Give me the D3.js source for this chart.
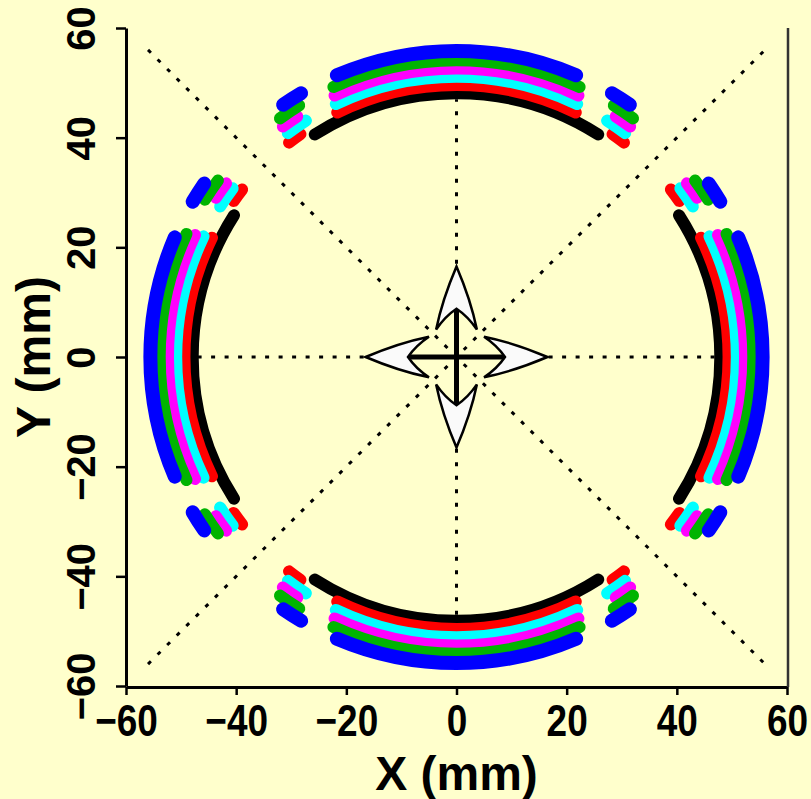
<!DOCTYPE html>
<html lang="en">
<head>
    <meta charset="UTF-8">
    <title>Ring segments</title>
    <script src="https://d3js.org/d3.v7.min.js"></script>
    <style>
        body {
            margin: 0;
            background: #ffffcc;
            font-family: "Liberation Sans", Arial, sans-serif;
        }
        .tick text {
            font-weight: bold;
        }
    </style>
</head>
<body>
    <div id="chart"></div>
    <script>
        // ring bands, inner to outer (drawn in this order)
        const bandColors = ["#000000", "#ff0000", "#00ffff", "#ff00ff", "#00b400", "#0000ff"];
        const bandRadius = [48, 49.5, 51, 52.5, 54, 55.7];          // mm
        const bandWidth = [12, 12, 12, 12, 12, 14];                 // px
        const mainHalfSpan = [32.5, 26, 25.5, 25, 24.5, 23];        // deg either side of the axis
        const sideFrom = [null, 35, 32.5, 33.5, 32, 30.5];          // short side pieces, deg from axis
        const sideTo = [null, 38, 37, 37, 36.5, 34.5];
        const arcAxes = [90, 0, 270, 180];                          // top, right, bottom, left

        const xTicks = [-60, -40, -20, 0, 20, 40, 60];
        const yTicks = [-60, -40, -20, 0, 20, 40, 60];

        // dotted guide lines [x1, y1, x2, y2] in mm
        const guides = [[-47, 0, 47, 0], [0, -47, 0, 47], [-56, 56, 56, -56], [-56, -56, 56, 56]];

        // centre arrows: direction, tip, notch, barb position/half-width (mm)
        const arrowDirs = [90, 0, 270, 180];
        const arrowTip = 16.5, arrowNotch = 8.8, arrowBarb = 5.0, arrowHalf = 3.7;

        const W = 811, H = 799;
        const x = d3.scaleLinear().domain([-60, 60]).range([126, 787]);
        const y = d3.scaleLinear().domain([-60, 60]).range([686, 28]);

        const svg = d3.select("#chart").append("svg")
            .attr("width", W).attr("height", H);

        svg.append("rect").attr("width", W).attr("height", H).attr("fill", "#ffffcc");

        // guides
        svg.append("g").selectAll("line")
            .data(guides)
            .enter().append("line")
            .attr("x1", d => x(d[0])).attr("y1", d => y(d[1]))
            .attr("x2", d => x(d[2])).attr("y2", d => y(d[3]))
            .attr("stroke", "#000")
            .attr("stroke-width", 3)
            .attr("stroke-dasharray", "4,9.5");

        // ring pieces
        const cx = x(0), cy = y(0);
        const rad = deg => deg * Math.PI / 180;
        function arcPath(r, from, to) {
            const p = d3.path();
            const R = ((x(r) - x(0)) + (y(0) - y(r))) / 2;
            p.arc(cx, cy, R, rad(-to), rad(-from));
            return p.toString();
        }

        const pieces = [];
        bandColors.forEach((c, i) => {
            arcAxes.forEach(a => {
                pieces.push({c, w: bandWidth[i], r: bandRadius[i], from: a - mainHalfSpan[i], to: a + mainHalfSpan[i]});
                if (sideFrom[i] != null) {
                    pieces.push({c, w: bandWidth[i], r: bandRadius[i], from: a + sideFrom[i], to: a + sideTo[i]});
                    pieces.push({c, w: bandWidth[i], r: bandRadius[i], from: a - sideTo[i], to: a - sideFrom[i]});
                }
            });
        });

        svg.append("g").selectAll("path")
            .data(pieces)
            .enter().append("path")
            .attr("d", d => arcPath(d.r, d.from, d.to))
            .attr("fill", "none")
            .attr("stroke", d => d.c)
            .attr("stroke-width", d => d.w)
            .attr("stroke-linecap", "round");

        // centre cross
        svg.append("g").selectAll("line")
            .data(arrowDirs.slice(0, 2))
            .enter().append("line")
            .attr("x1", d => x(arrowNotch * Math.cos(rad(d)))).attr("y1", d => y(arrowNotch * Math.sin(rad(d))))
            .attr("x2", d => x(-arrowNotch * Math.cos(rad(d)))).attr("y2", d => y(-arrowNotch * Math.sin(rad(d))))
            .attr("stroke", "#000")
            .attr("stroke-width", 5);

        // arrow heads
        function arrowPath(dir) {
            const c = Math.cos(rad(dir)), s = Math.sin(rad(dir));
            const pt = (along, lat) => [x(along * c - lat * s), y(along * s + lat * c)];
            const p = d3.path();
            const tip = pt(arrowTip, 0);
            p.moveTo(...tip);
            p.quadraticCurveTo(...pt(10.4, 2.6), ...pt(arrowBarb, arrowHalf));
            p.quadraticCurveTo(...pt(7.4, 2.1), ...pt(arrowNotch, 0));
            p.quadraticCurveTo(...pt(7.4, -2.1), ...pt(arrowBarb, -arrowHalf));
            p.quadraticCurveTo(...pt(10.4, -2.6), ...tip);
            p.closePath();
            return p.toString();
        }

        svg.append("g").selectAll("path")
            .data(arrowDirs)
            .enter().append("path")
            .attr("d", d => arrowPath(d))
            .attr("fill", "#fafafa")
            .attr("stroke", "#000")
            .attr("stroke-width", 2.5)
            .attr("stroke-linejoin", "miter");

        // axes
        const xAxis = svg.append("g")
            .attr("transform", `translate(0,${y(-60) + 1})`)
            .call(d3.axisBottom(x).tickValues(xTicks).tickSize(8).tickSizeOuter(0).tickPadding(6));
        xAxis.select(".domain").attr("stroke-width", 3);
        xAxis.selectAll(".tick line").attr("stroke-width", 2.5);
        xAxis.selectAll(".tick text")
            .attr("font-size", 44)
            .attr("fill", "#000")
            .attr("y", null).attr("dy", null)
            .attr("transform", "translate(0,49) scale(0.84,1)");

        const yAxis = svg.append("g")
            .attr("transform", `translate(${x(-60)},0)`)
            .call(d3.axisLeft(y).tickValues(yTicks).tickSize(10).tickSizeOuter(0).tickFormat(d3.format("d")));
        yAxis.select(".domain").attr("stroke-width", 3);
        yAxis.selectAll(".tick line").attr("stroke-width", 2.5);
        yAxis.selectAll(".tick text")
            .attr("font-size", 40)
            .attr("fill", "#000")
            .attr("x", null).attr("dy", null)
            .attr("text-anchor", "middle")
            .attr("transform", "translate(-31,0) rotate(-90)");

        // right frame edge
        svg.append("line")
            .attr("x1", x(60) + 1).attr("x2", x(60) + 1)
            .attr("y1", y(60)).attr("y2", y(-60) + 1)
            .attr("stroke", "#333").attr("stroke-width", 2.5);

        // titles
        svg.append("text")
            .attr("x", x(0)).attr("y", 790)
            .attr("text-anchor", "middle")
            .attr("font-size", 48).attr("font-weight", "bold")
            .text("X (mm)");

        svg.append("text")
            .attr("transform", `translate(50,${y(0)}) rotate(-90)`)
            .attr("text-anchor", "middle")
            .attr("font-size", 48).attr("font-weight", "bold")
            .text("Y (mm)");
    </script>
</body>
</html>
